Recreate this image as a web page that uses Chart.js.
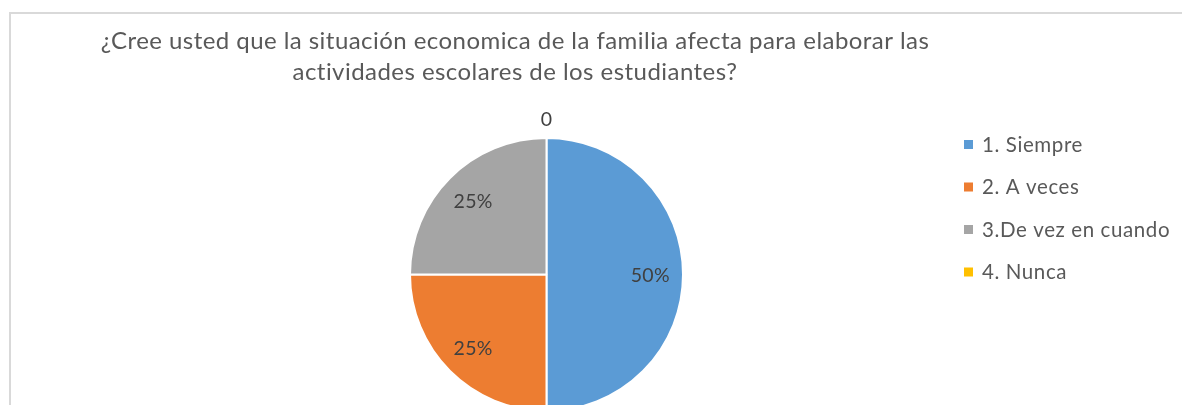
<!DOCTYPE html>
<html>
<head>
<meta charset="utf-8">
<script src="https://cdn.jsdelivr.net/npm/chart.js@4.4.1/dist/chart.umd.min.js"></script>
<style>
  html, body { margin: 0; padding: 0; background: #fff; overflow: hidden; }
  .frame {
    position: absolute; left: 9px; top: 12px; width: 1400px; height: 600px;
    border-left: 2px solid #d9d9d9; border-top: 2px solid #d9d9d9;
  }
  .wrap { position: absolute; left: 0; top: 0; width: 1182px; height: 430px; }
</style>
</head>
<body>
<div class="frame"></div>
<div class="wrap"><canvas id="myChart" width="1182" height="430"></canvas></div>
<script>
const titleLines = [
  '¿Cree usted que la situación economica de la familia afecta para elaborar las',
  'actividades escolares de los estudiantes?'
];
const categories = ['1. Siempre', '2. A veces', '3.De vez en cuando', '4. Nunca'];
const percentages = [50, 25, 25, 0];
const colors = ['#5B9BD5', '#ED7D31', '#A5A5A5', '#FFC000'];

const FONT = 'Lato, "Noto Sans", sans-serif';

// title, legend and data labels drawn by hand, Excel style
const excelBits = {
  id: 'excelBits',
  afterDraw(chart) {
    const ctx = chart.ctx;
    ctx.save();
    ctx.fillStyle = '#595959';
    ctx.textAlign = 'center';
    ctx.textBaseline = 'middle';
    ctx.font = '24px ' + FONT;
    ctx.letterSpacing = '0.45px';
    ctx.fillText(titleLines[0], 515, 41);
    ctx.fillText(titleLines[1], 515, 72);

    // legend
    ctx.textAlign = 'left';
    ctx.font = '20.5px ' + FONT;
    ctx.letterSpacing = '0.6px';
    categories.forEach((name, i) => {
      const y = 144 + i * 42.5;
      ctx.fillStyle = colors[i];
      ctx.fillRect(964, y - 4, 9, 9);
      ctx.fillStyle = '#595959';
      ctx.fillText(name, 982, y + 1);
    });

    // data labels
    ctx.textAlign = 'center';
    ctx.fillStyle = '#404040';
    ctx.font = '19.5px ' + FONT;
    ctx.letterSpacing = '0.3px';
    const meta = chart.getDatasetMeta(0);
    meta.data.forEach((arc, i) => {
      const v = percentages[i];
      const p = arc.getProps(['x', 'y', 'startAngle', 'endAngle', 'outerRadius'], true);
      const mid = (p.startAngle + p.endAngle) / 2;
      const r = v > 0 ? p.outerRadius * 0.76 : p.outerRadius + 19;
      const text = v > 0 ? v + '%' : String(v);
      ctx.fillText(text, p.x + Math.cos(mid) * r, p.y + Math.sin(mid) * r + 1);
    });
    ctx.restore();
  }
};

new Chart(document.getElementById('myChart'), {
  type: 'pie',
  data: {
    labels: categories,
    datasets: [{
      data: percentages,
      backgroundColor: colors,
      borderColor: '#ffffff',
      borderWidth: 2
    }]
  },
  options: {
    responsive: false,
    animation: false,
    layout: { padding: { top: 137, bottom: 18, left: 409, right: 498 } },
    plugins: {
      legend: { display: false },
      title: { display: false },
      tooltip: { enabled: false }
    }
  },
  plugins: [excelBits]
});
</script>
</body>
</html>
